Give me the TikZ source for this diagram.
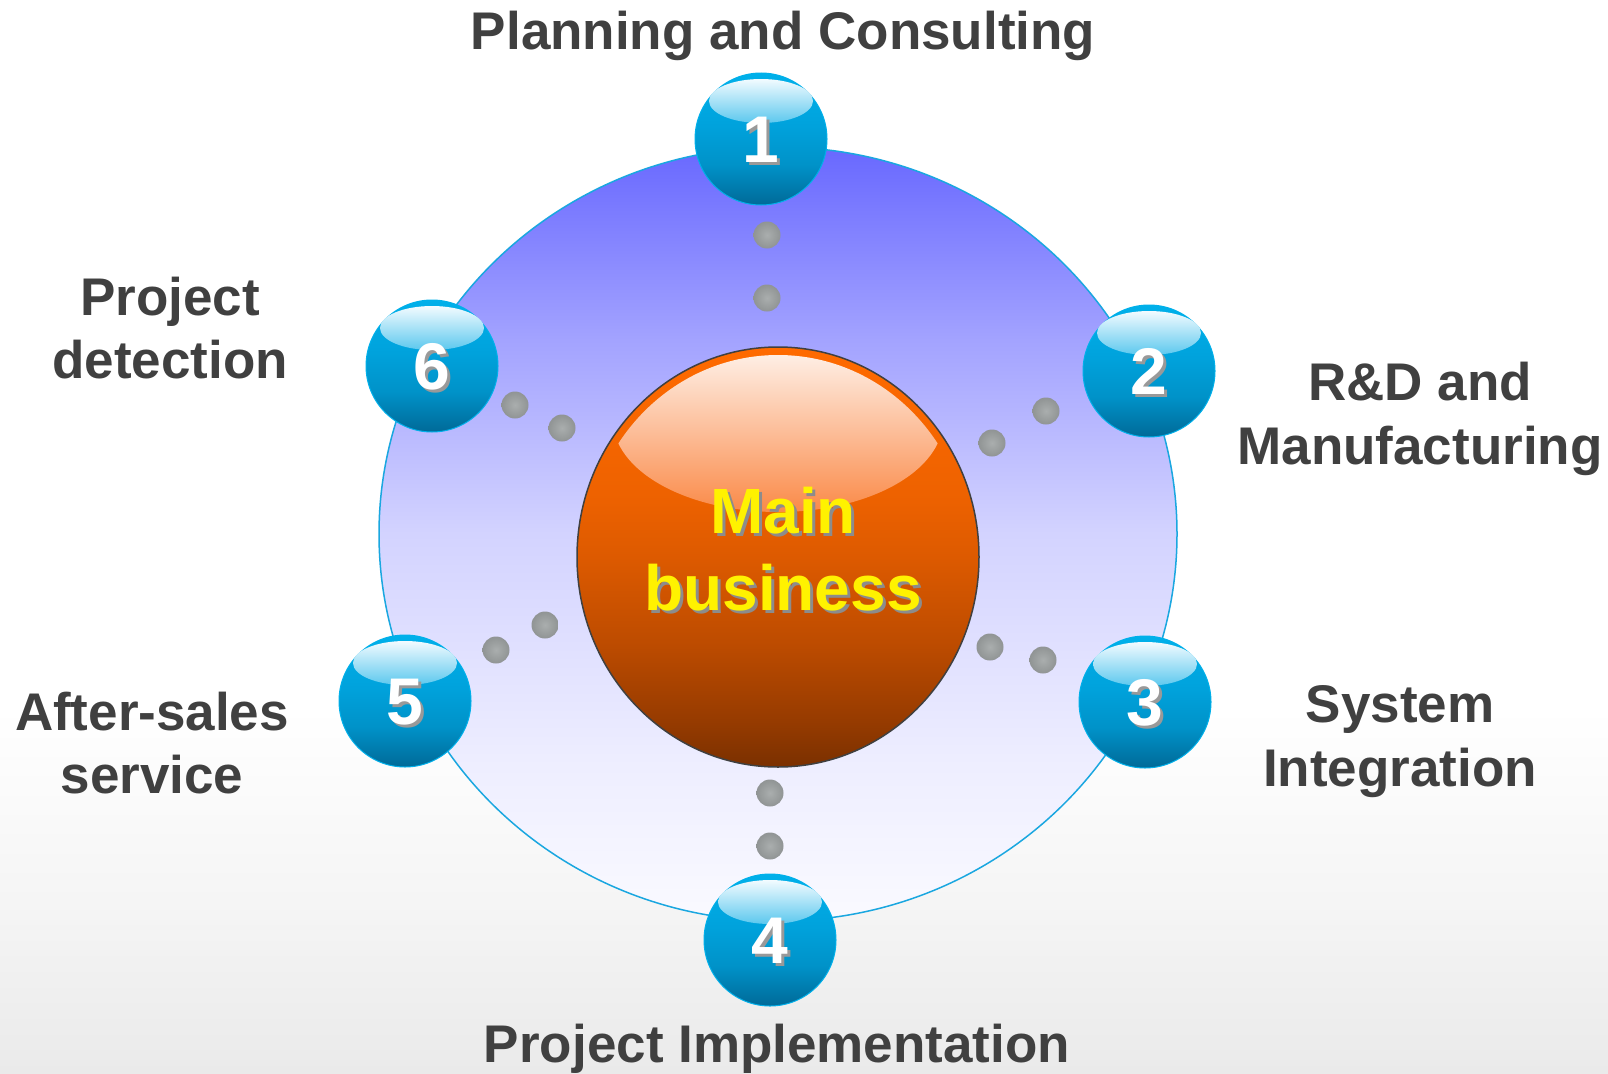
\documentclass[tikz,border=0pt]{standalone}
\usepackage{fontspec}
\setmainfont{Liberation Sans}
\usetikzlibrary{shapes.geometric,calc}
\definecolor{lblc}{HTML}{404040}
\definecolor{ringc}{HTML}{1AA7E0}
\definecolor{bgbot}{HTML}{EAEAEA}
\definecolor{bgmid}{HTML}{F5F5F5}
\definecolor{rA}{HTML}{FAFAFF}
\definecolor{rB}{HTML}{EEEEFF}
\definecolor{rC}{HTML}{D3D3FF}
\definecolor{rD}{HTML}{A3A3FF}
\definecolor{rE}{HTML}{6868FF}
\definecolor{oA}{HTML}{7A3000}
\definecolor{oB}{HTML}{943A00}
\definecolor{oC}{HTML}{BE4C00}
\definecolor{oD}{HTML}{DD5A00}
\definecolor{oE}{HTML}{EE6200}
\definecolor{oF}{HTML}{FF6A00}
\definecolor{bA}{HTML}{006A98}
\definecolor{bB}{HTML}{0092C8}
\definecolor{bC}{HTML}{00A2DC}
\definecolor{bD}{HTML}{00B0EA}
\definecolor{hltop}{HTML}{F2FBFF}
\definecolor{hlc}{HTML}{5CC8EE}
\definecolor{ohl}{HTML}{FA8A48}
\definecolor{dotin}{HTML}{AAAEAE}
\definecolor{dotout}{HTML}{909494}
\pgfdeclareverticalshading{bgshade}{100bp}{color(0bp)=(bgbot); color(25bp)=(bgbot); color(33bp)=(bgmid); color(42bp)=(white); color(100bp)=(white)}
\pgfdeclareverticalshading{ringshade}{100bp}{color(0bp)=(rA); color(25bp)=(rA); color(35bp)=(rB); color(50bp)=(rC); color(62.5bp)=(rD); color(75bp)=(rE); color(100bp)=(rE)}
\pgfdeclareverticalshading{orangeshade}{100bp}{color(0bp)=(oA); color(25bp)=(oA); color(30bp)=(oB); color(40bp)=(oC); color(50bp)=(oD); color(57.5bp)=(oE); color(75bp)=(oF); color(100bp)=(oF)}
\pgfdeclareverticalshading{ballshade}{100bp}{color(0bp)=(bA); color(25bp)=(bA); color(40bp)=(bB); color(55bp)=(bC); color(75bp)=(bD); color(100bp)=(bD)}
\begin{document}
\begin{tikzpicture}[x=1pt,y=-1pt,
  lbl/.style={font=\fontsize{53}{64}\selectfont\bfseries, text=lblc, anchor=base, inner sep=0pt},
  ball/.style={circle, minimum size=132pt, inner sep=0pt, shade, shading=ballshade, draw=bD, line width=1pt},
  ballhl/.style={ellipse, minimum width=104pt, minimum height=44pt, inner sep=0pt, shade, top color=hltop, bottom color=hlc},
  num/.style={font=\fontsize{66}{66}\selectfont\bfseries, text=white, anchor=base, inner sep=0pt},
  numsh/.style={num, text=black!40},
  dotc/.style={circle, minimum size=27pt, inner sep=0pt, shade, inner color=dotin, outer color=dotout},
  maintxt/.style={font=\fontsize{64}{64}\selectfont\bfseries, text=yellow, anchor=base, inner sep=0pt},
  mainsh/.style={maintxt, text=black!45}
]
\useasboundingbox (0,0) rectangle (1608,1073);
\shade[shading=bgshade] (0,0) rectangle (1608,1073);
% ring
\node[ellipse, minimum width=798pt, minimum height=774pt, inner sep=0pt, shade, shading=ringshade, draw=ringc, line width=1.5pt] (ring) at (778,534) {};
% dots
\foreach \n/\x/\y in {d1a/767/235, d1b/767/298, d2a/1046/411, d2b/992/443, d3a/990/647, d3b/1043/660, d4a/770/793, d4b/770/846, d5a/545/625, d5b/496/650, d6a/515/405, d6b/562/428}
  \node[dotc] (\n) at (\x,\y) {};
% central ball
\node[ellipse, minimum width=402pt, minimum height=420pt, inner sep=0pt, shade, shading=orangeshade, draw=black!75, line width=1.5pt] (main) at (778,557) {};
\begin{scope}
  \clip (778,557) ellipse [x radius=193pt, y radius=202pt];
  \node[ellipse, minimum width=330pt, minimum height=184pt, inner sep=0pt, shade, top color=white, bottom color=ohl] (mainhl) at (778,420) {};
\end{scope}
\node[mainsh] (m1s) at (786,536) {Main};
\node[maintxt] (m1) at (783,533) {Main};
\node[mainsh] (m2s) at (786,613) {business};
\node[maintxt] (m2) at (783,610) {business};
% numbered balls
\foreach \i/\x/\y in {1/761/139, 2/1149/371, 3/1145/702, 4/770/940, 5/405/701, 6/432/366} {
  \node[ball] (b\i) at (\x,\y) {};
  \node[ballhl] (h\i) at (\x,\y-38) {};
  \node[numsh] (s\i) at (\x+3,\y+26) {\i};
  \node[num] (n\i) at (\x,\y+23) {\i};
}
% labels
\node[lbl] (l1) at (783,49) {Planning and Consulting};
\node[lbl] (l2a) at (1420,400) {R\&D and};
\node[lbl] (l2b) at (1420,464) {Manufacturing};
\node[lbl] (l3a) at (1400,722) {System};
\node[lbl] (l3b) at (1400,786) {Integration};
\node[lbl] (l4) at (777,1062) {Project Implementation};
\node[lbl] (l5a) at (152,730) {After-sales};
\node[lbl] (l5b) at (152,793) {service};
\node[lbl] (l6a) at (170,315) {Project};
\node[lbl] (l6b) at (170,378) {detection};
\end{tikzpicture}
\end{document}
